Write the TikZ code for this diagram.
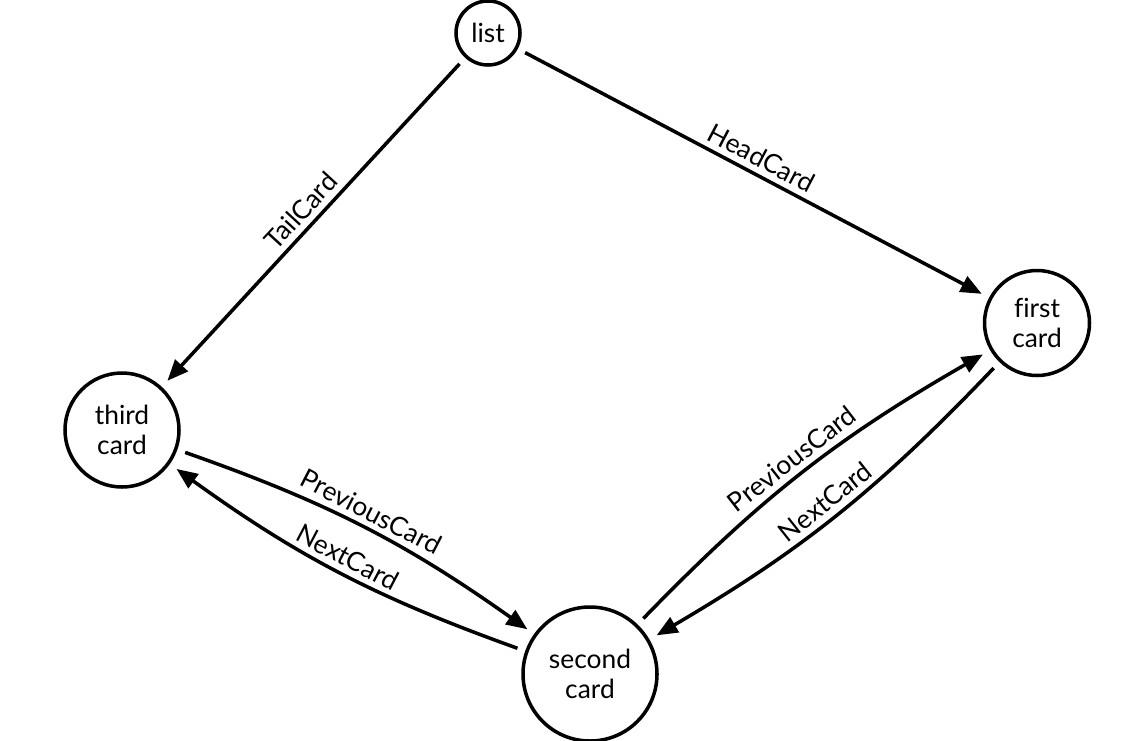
\documentclass[tikz,border=0pt]{standalone}
\usepackage{fontspec}
\setmainfont[Ligatures=NoCommon]{Lato}
\usetikzlibrary{arrows.meta}

\begin{document}
\begin{tikzpicture}[
  card/.style={draw, circle, line width=2pt, align=center, inner sep=0pt, outer sep=0.2cm},
  link/.style={-{Triangle[length=0.42cm,width=0.34cm]}, line width=2pt},
  font=\fontsize{15}{17}\selectfont]
  \useasboundingbox (0,0) rectangle (22.84,-14.8);

  \node[card, minimum size=1.28cm] (list) at (9.76,-0.66) {list};
  \node[card, minimum size=2.1cm] (first) at (20.74,-6.46) {first\\card};
  \node[card, minimum size=2.28cm] (third) at (2.44,-8.6) {third\\card};
  \node[card, minimum size=2.68cm] (second) at (11.8,-13.48) {second\\card};

  \draw[link] (list) -- node[sloped, above] {TailCard} (third);
  \draw[link] (list) -- node[sloped, above] {HeadCard} (first);

  \draw[link] (third) to[bend left=8] node[sloped, above] {PreviousCard} (second);
  \draw[link] (second) to[bend left=8] node[sloped, above] {NextCard} (third);
  \draw[link] (second) to[bend left=8] node[sloped, above] {PreviousCard} (first);
  \draw[link] (first) to[bend left=8] node[sloped, above] {NextCard} (second);
\end{tikzpicture}
\end{document}
